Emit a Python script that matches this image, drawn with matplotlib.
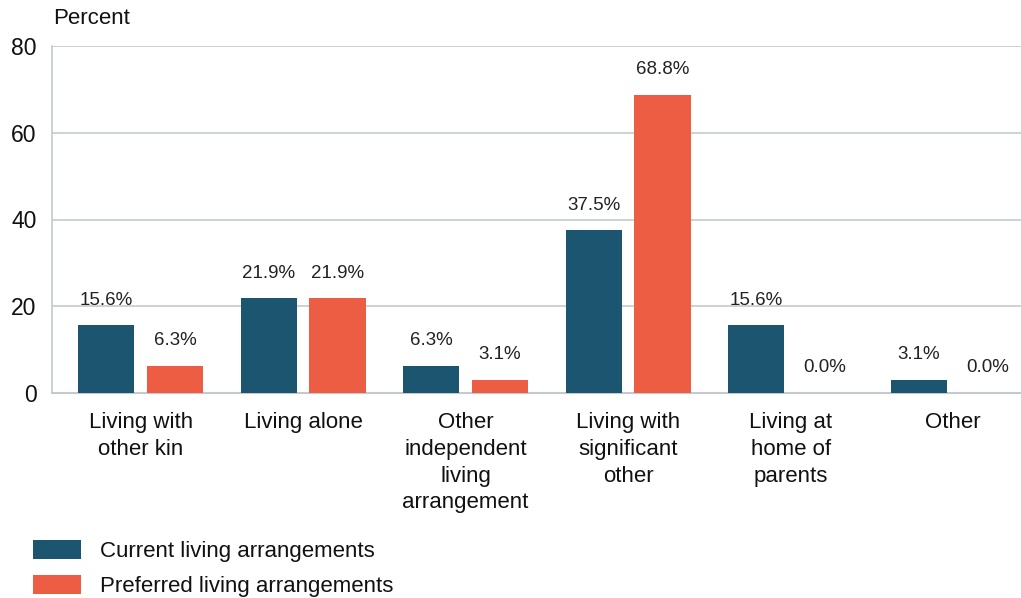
import matplotlib
matplotlib.use("Agg")
import matplotlib.pyplot as plt
from matplotlib.patches import Patch
import numpy as np

plt.rcParams['font.family'] = ['Liberation Sans', 'DejaVu Sans']

categories = [
    "Living with\nother kin",
    "Living alone",
    "Other\nindependent\nliving\narrangement",
    "Living with\nsignificant\nother",
    "Living at\nhome of\nparents",
    "Other",
]
current = [15.6, 21.9, 6.3, 37.5, 15.6, 3.1]
preferred = [6.3, 21.9, 3.1, 68.8, 0.0, 0.0]
series_names = ["Current living arrangements", "Preferred living arrangements"]
yticks = [0, 20, 40, 60, 80]

BLUE = "#1b5570"
ORANGE = "#ec5d44"
GRID = "#c3c9cc"
TXT = "#111111"

W, H = 1021, 598
fig = plt.figure(figsize=(W / 100, H / 100), dpi=100)
# axes box in pixel coordinates: left 52, right 1021, top 46, bottom 393
ax = fig.add_axes([52 / W, 1 - 393 / H, (1021 - 52) / W, (393 - 46) / H])

x = np.arange(len(categories))
bw = 0.345
off = 0.212
b1 = ax.bar(x - off, current, bw, color=BLUE, zorder=3)
b2 = ax.bar(x + off, preferred, bw, color=ORANGE, zorder=3)

for bars, vals in ((b1, current), (b2, preferred)):
    for rect, v in zip(bars, vals):
        ax.annotate(f"{v:.1f}%", (rect.get_x() + rect.get_width() / 2, v),
                    xytext=(0, 18), textcoords="offset points",
                    ha="center", va="center", fontsize=13.5, color="#222222")

ax.set_xlim(-0.545, 5.418)
ax.set_ylim(0, 80)
ax.set_yticks(yticks)
ax.set_yticklabels([str(t) for t in yticks], fontsize=16.5, color=TXT)
ax.set_xticks(x)
ax.set_xticklabels(categories, fontsize=16, color=TXT, linespacing=1.35, va="top")
ax.tick_params(axis="both", length=0)
ax.tick_params(axis="y", pad=11)
ax.tick_params(axis="x", pad=14)
ax.yaxis.grid(True, color=GRID, linewidth=1.2, zorder=0)
ax.set_axisbelow(True)
for s in ("top", "right"):
    ax.spines[s].set_visible(False)
ax.spines["left"].set_color(GRID)
ax.spines["left"].set_linewidth(1.2)
ax.spines["bottom"].set_color(GRID)
ax.spines["bottom"].set_linewidth(1.5)

fig.text(53 / W, 1 - 19 / H, "Percent", fontsize=16, va="center", ha="left", color=TXT)

handles = [Patch(facecolor=BLUE), Patch(facecolor=ORANGE)]
fig.legend(handles, series_names, loc="lower left", bbox_to_anchor=(13 / W, -0.032),
           frameon=False, fontsize=16, handlelength=2.16, handleheight=0.9,
           handletextpad=0.85, labelspacing=0.59, labelcolor=TXT)

fig.savefig("out.png", dpi=100)
